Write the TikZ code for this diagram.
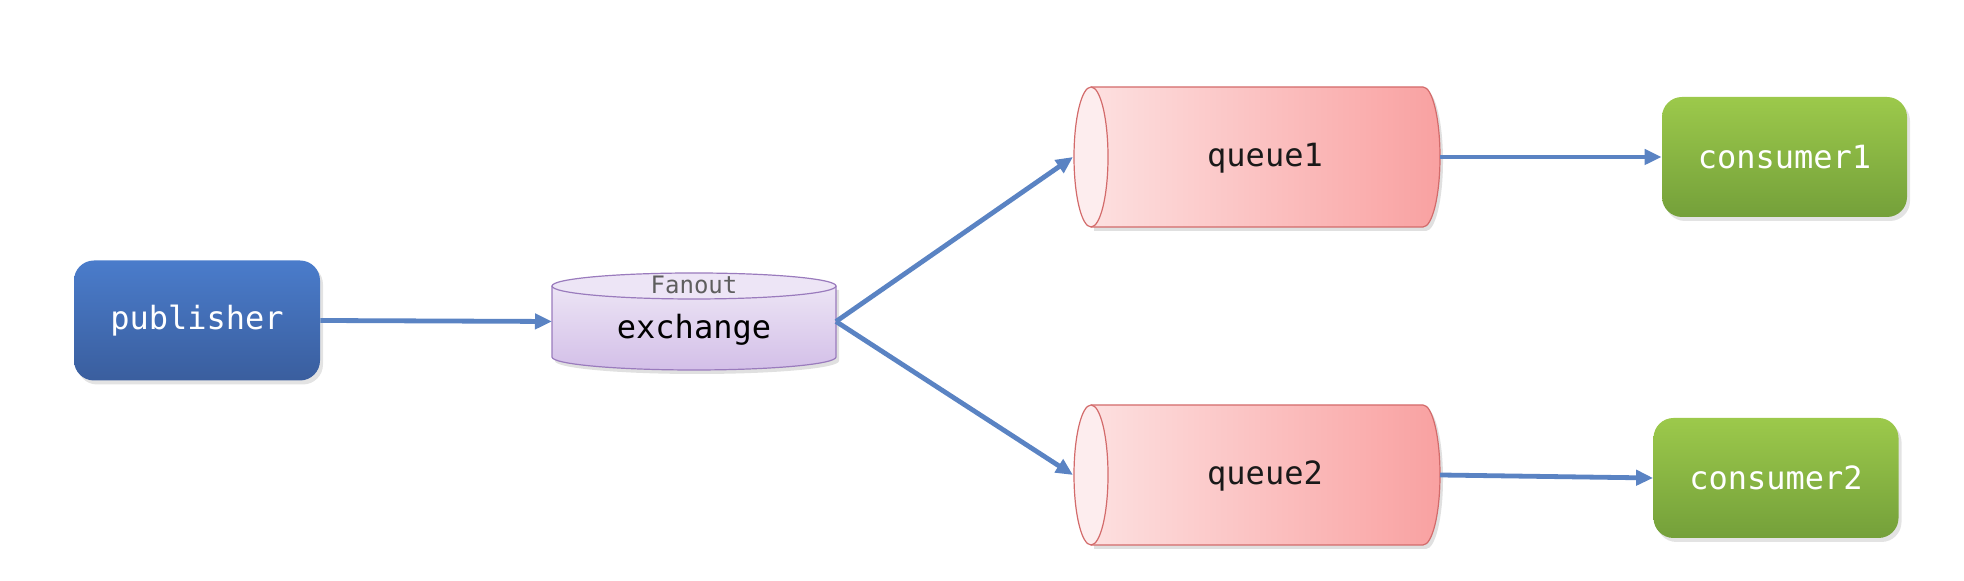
\documentclass[tikz,border=0pt]{standalone}
\usepackage{fontspec}
\setmonofont{DejaVu Sans Mono}
\usetikzlibrary{arrows.meta,shadows}
\definecolor{arrowblue}{HTML}{5A83C3}
\definecolor{pubtop}{HTML}{4A7CCB}
\definecolor{pubbot}{HTML}{3A5E9E}
\definecolor{contop}{HTML}{9CC94B}
\definecolor{conbot}{HTML}{74A03A}
\definecolor{qleft}{HTML}{FDE3E3}
\definecolor{qright}{HTML}{F9A1A1}
\definecolor{qface}{HTML}{FDEDEE}
\definecolor{qborder}{HTML}{D36B6B}
\definecolor{extop}{HTML}{F0EAF7}
\definecolor{exbot}{HTML}{D3BFE8}
\definecolor{exface}{HTML}{EDE5F6}
\definecolor{exborder}{HTML}{9A7BBD}
\definecolor{fanoutgray}{HTML}{5E5E5E}
\begin{document}
\begin{tikzpicture}[x=0.5pt,y=0.5pt,
  conn/.style={draw=arrowblue, line width=2.4pt, -{Triangle[length=8.5pt,width=7.5pt]}},
  txt/.style={font=\ttfamily\fontsize{16}{19}\selectfont, inner sep=0pt},
  box/.style={txt, rounded corners=10pt, minimum height=60pt, text=white,
    drop shadow={opacity=0.22, shadow xshift=1.5pt, shadow yshift=-2pt}},
  pubbox/.style={box, top color=pubtop, bottom color=pubbot, minimum width=123pt},
  conbox/.style={box, top color=contop, bottom color=conbot, minimum width=122.5pt},
  geom/.style={inner sep=0pt, outer sep=0pt},
  qshape/.style={draw=qborder, line width=0.6pt},
  exshape/.style={draw=exborder, line width=0.6pt}
]
\useasboundingbox (0,0) rectangle (1964,581);

% ---------- exchange cylinder ----------
\fill[black, opacity=0.12] (555,291) -- (555,220) arc[start angle=180,end angle=360,x radius=71pt,y radius=6.5pt] -- (839,291) -- cycle;
\shade[top color=extop, bottom color=exbot] (552,295) -- (552,224) arc[start angle=180,end angle=360,x radius=71pt,y radius=6.5pt] -- (836,295) arc[start angle=0,end angle=180,x radius=71pt,y radius=6.5pt] -- cycle;
\draw[exshape] (552,295) -- (552,224) arc[start angle=180,end angle=360,x radius=71pt,y radius=6.5pt] -- (836,295);
\filldraw[exshape, fill=exface] (694,295) ellipse[x radius=71pt, y radius=6.5pt];
\node[geom, minimum width=142pt, minimum height=48.5pt] (ex) at (694,259.5) {};
\node[txt, font=\ttfamily\fontsize{12}{14}\selectfont, text=fanoutgray] (fanout) at (694,296) {Fanout};
\node[txt, text=black] (exlabel) at (694,251) {exchange};

% ---------- queue cylinders ----------
\foreach \cy/\nm/\lbl in {424/q1/queue1, 106/q2/queue2}{
  \fill[black, opacity=0.12] (1094,\cy+66) -- (1426,\cy+66) arc[start angle=90,end angle=-90,x radius=8.5pt,y radius=35pt] -- (1094,\cy-74) -- cycle;
  \shade[left color=qleft, right color=qright] (1091,\cy+70) -- (1423,\cy+70) arc[start angle=90,end angle=-90,x radius=8.5pt,y radius=35pt] -- (1091,\cy-70) arc[start angle=270,end angle=90,x radius=8.5pt,y radius=35pt] -- cycle;
  \draw[qshape] (1091,\cy+70) -- (1423,\cy+70) arc[start angle=90,end angle=-90,x radius=8.5pt,y radius=35pt] -- (1091,\cy-70);
  \filldraw[qshape, fill=qface] (1091,\cy) ellipse[x radius=8.5pt, y radius=35pt];
  \node[geom, minimum width=183.5pt, minimum height=70pt] (\nm) at (1256.5,\cy) {};
  \node[txt, text=black!90] (\nm label) at (1265,\cy-1) {\lbl};
}

% ---------- boxes ----------
\node[pubbox] (pub) at (197,260.5) {publisher};
\node[conbox] (c1) at (1784.5,424) {consumer1};
\node[conbox] (c2) at (1776,103) {consumer2};

% ---------- connectors ----------
\draw[conn] (pub.east) -- (ex.west);
\draw[conn] (ex.east) -- (q1.west);
\draw[conn] (ex.east) -- (q2.west);
\draw[conn] (q1.east) -- (c1.west);
\draw[conn] (q2.east) -- (c2.west);
\end{tikzpicture}
\end{document}
